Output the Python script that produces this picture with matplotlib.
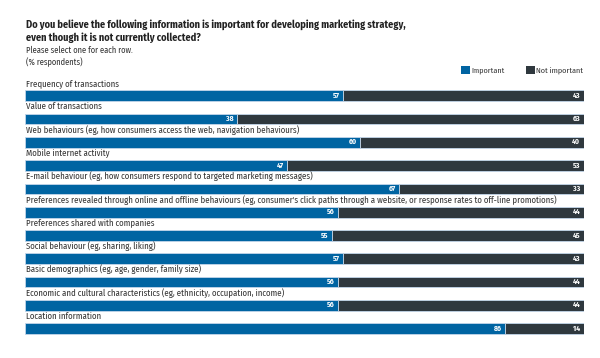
import matplotlib
matplotlib.use("Agg")
import matplotlib.pyplot as plt
from matplotlib.patches import Rectangle

categories = [
    "Frequency of transactions",
    "Value of transactions",
    "Web behaviours (eg, how consumers access the web, navigation behaviours)",
    "Mobile internet activity",
    "E-mail behaviour (eg, how consumers respond to targeted marketing messages)",
    "Preferences revealed through online and offline behaviours (eg, consumer's click paths through a website, or response rates to off-line promotions)",
    "Preferences shared with companies",
    "Social behaviour (eg, sharing, liking)",
    "Basic demographics (eg, age, gender, family size)",
    "Economic and cultural characteristics (eg, ethnicity, occupation, income)",
    "Location information",
]
important = [57, 38, 60, 47, 67, 56, 55, 57, 56, 56, 86]
not_important = [43, 63, 40, 53, 33, 44, 45, 43, 44, 44, 14]
series_names = ["Important", "Not important"]

BLUE = "#0064a2"
DARK = "#2f383e"
TXT = "#333333"
FONT = ["Fira Sans Condensed", "Roboto Condensed", "Asap Condensed",
        "Liberation Sans Narrow", "DejaVu Sans"]
plt.rcParams['font.family'] = FONT

W, H = 600, 358
fig = plt.figure(figsize=(W / 100, H / 100), dpi=100)
x_left, x_right = 25, 583.5
ax = fig.add_axes([x_left / W, 0, (x_right - x_left) / W, 1])
row0, step = 95.7, 23.3
ax.set_ylim((H - row0) / step, -row0 / step)
ax.set_xlim(0, 100)
ax.axis("off")

n = len(categories)
ys = list(range(n))
ax.barh(ys, important, height=0.46, color=BLUE, edgecolor="#c3d6ea", linewidth=0.6)
ax.barh(ys, not_important, left=important, height=0.46, color=DARK, edgecolor="#c3d6ea", linewidth=0.6)
for i in range(n):
    ax.text(0.2, i - 0.54, categories[i], ha="left", va="center", fontsize=6.3, color=TXT)
    ax.text(important[i] - 0.6, i, str(important[i]), ha="right", va="center",
            fontsize=5.5, color="white", fontweight="bold")
    end = min(important[i] + not_important[i], 100)
    ax.text(end - 0.6, i, str(not_important[i]), ha="right",
            va="center", fontsize=5.5, color="white", fontweight="bold")

tx = 26 / W
fig.text(tx, 1 - 25 / H, "Do you believe the following information is important for developing marketing strategy,",
         fontsize=7.4, fontweight="bold", color="#222222", va="center")
fig.text(tx, 1 - 37.5 / H, "even though it is not currently collected?",
         fontsize=7.4, fontweight="bold", color="#222222", va="center")
fig.text(tx, 1 - 50 / H, "Please select one for each row.", fontsize=6.1, color=TXT, va="center")
fig.text(tx, 1 - 62 / H, "(% respondents)", fontsize=6.1, color=TXT, va="center")

# legend
for x0, col, name in [(461, BLUE, series_names[0]), (526, DARK, series_names[1])]:
    fig.patches.append(Rectangle((x0 / W, 1 - 74 / H), 9 / W, 8 / H, transform=fig.transFigure,
                                 facecolor=col, edgecolor="none"))
    fig.text((x0 + 10) / W, 1 - 70 / H, name, fontsize=5.8, color=TXT, va="center")

fig.savefig("out.png", dpi=100)
